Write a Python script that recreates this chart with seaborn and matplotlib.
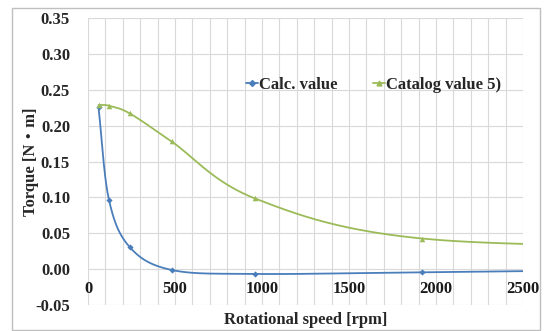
import numpy as np
import pandas as pd
import matplotlib
matplotlib.use("Agg")
import matplotlib.pyplot as plt
from matplotlib.lines import Line2D
from matplotlib.patches import Rectangle
import seaborn as sns

# Measured torque against rotational speed
speed_rpm = [60, 120, 240, 480, 960, 1920, 3840]
calc_torque = [0.2255, 0.0968, 0.0306, -0.0011, -0.0067, -0.0044, 0.0010]
catalog_torque = [0.2288, 0.2278, 0.2170, 0.1780, 0.0985, 0.0427, 0.0300]

series_names = ["Calc. value", "Catalog value 5)"]
x_ticks = [0, 500, 1000, 1500, 2000, 2500]
y_ticks = [-0.05, 0.00, 0.05, 0.10, 0.15, 0.20, 0.25, 0.30, 0.35]

BLUE = "#4A7EBB"
GREEN = "#9BBB59"
GRID = "#D9D9D9"

sns.set_theme(style="white")
plt.rcParams["font.family"] = ["Liberation Serif", "DejaVu Serif"]
plt.rcParams["font.weight"] = "bold"


def smooth_curve(xs, ys, sx, sy, n=60):
    """Catmull-Rom spline through the points, evaluated in screen-like units."""
    px = np.asarray(xs, float) / sx
    py = np.asarray(ys, float) / sy
    P = np.column_stack([px, py])
    P = np.vstack([2 * P[0] - P[1], P, 2 * P[-1] - P[-2]])
    out = []
    for i in range(1, len(P) - 2):
        p0, p1, p2, p3 = P[i - 1], P[i], P[i + 1], P[i + 2]
        t = np.linspace(0, 1, n)[:, None]
        seg = 0.5 * ((2 * p1) + (-p0 + p2) * t
                     + (2 * p0 - 5 * p1 + 4 * p2 - p3) * t ** 2
                     + (-p0 + 3 * p1 - 3 * p2 + p3) * t ** 3)
        out.append(seg if i == 1 else seg[1:])
    c = np.vstack(out)
    return c[:, 0] * sx, c[:, 1] * sy


fig = plt.figure(figsize=(5.47, 3.31), dpi=100)
ax = fig.add_axes([0.161, 0.0785, 0.795, 0.867])

# screen scale: rpm per px and N·m per px
sx, sy = 2500 / 435.0, 0.40 / 287.0
curves = []
for name, vals in zip(series_names, [calc_torque, catalog_torque]):
    cx, cy = smooth_curve(speed_rpm, vals, sx, sy)
    curves.append(pd.DataFrame({"speed": cx, "torque": cy, "series": name}))
curve_df = pd.concat(curves, ignore_index=True)

points_df = pd.concat([
    pd.DataFrame({"speed": speed_rpm, "torque": calc_torque, "series": series_names[0]}),
    pd.DataFrame({"speed": speed_rpm, "torque": catalog_torque, "series": series_names[1]}),
], ignore_index=True)

palette = {series_names[0]: BLUE, series_names[1]: GREEN}
sns.lineplot(data=curve_df, x="speed", y="torque", hue="series", palette=palette,
             sort=False, estimator=None, linewidth=1.3, legend=False, ax=ax, zorder=3)
sns.scatterplot(data=points_df[points_df.series == series_names[0]], x="speed", y="torque",
                color=BLUE, marker="D", s=10, linewidth=0, legend=False, ax=ax, zorder=4)
sns.scatterplot(data=points_df[points_df.series == series_names[1]], x="speed", y="torque",
                color=GREEN, marker="^", s=16, linewidth=0, legend=False, ax=ax, zorder=4)

ax.set_xlim(0, 2500)
ax.set_ylim(-0.05, 0.35)

# gridlines: horizontal every 0.05, vertical every 100 rpm
ax.set_yticks(y_ticks)
ax.set_yticklabels([f"{v:.2f}" for v in y_ticks], fontsize=12, fontweight="bold")
ax.set_xticks(np.arange(0, 2501, 100))
ax.set_xticklabels([])
ax.grid(True, color=GRID, linewidth=0.8)
ax.tick_params(axis="both", length=0)
ax.tick_params(axis="y", pad=13)
for s in ax.spines.values():
    s.set_visible(False)

# horizontal axis labels sit just below the zero line
for xv in x_ticks:
    ax.text(xv, -0.027, str(xv), ha="center", va="center",
            fontsize=12, fontweight="bold", color="#1a1a1a", zorder=5)

ax.set_xlabel("Rotational speed [rpm]", fontsize=12, fontweight="bold")
ax.set_ylabel("Torque [N\u30fbm]", fontsize=12, fontweight="bold",
              fontfamily=["Liberation Serif", "Noto Sans CJK JP", "DejaVu Serif"])
ax.xaxis.set_label_coords(0.5, -0.025)
ax.yaxis.set_label_coords(-0.113, 0.5)

handles = [
    Line2D([0], [0], color=BLUE, marker="D", markersize=3, linewidth=1.3),
    Line2D([0], [0], color=GREEN, marker="^", markersize=3.5, linewidth=1.3),
]
ax.legend(handles, series_names, loc="center", bbox_to_anchor=(0.657, 0.767),
          ncol=2, frameon=False, handlelength=0.7, handletextpad=0.1,
          columnspacing=2.1, prop={"family": "Liberation Serif", "weight": "bold", "size": 12})

# outer chart border
fig.patches.append(Rectangle((12 / 547, 1 / 331), (540 - 12) / 547, (323 - 1) / 331,
                             transform=fig.transFigure, fill=False,
                             edgecolor="#BFBFBF", linewidth=1.0))

fig.savefig("out.png", dpi=100)
